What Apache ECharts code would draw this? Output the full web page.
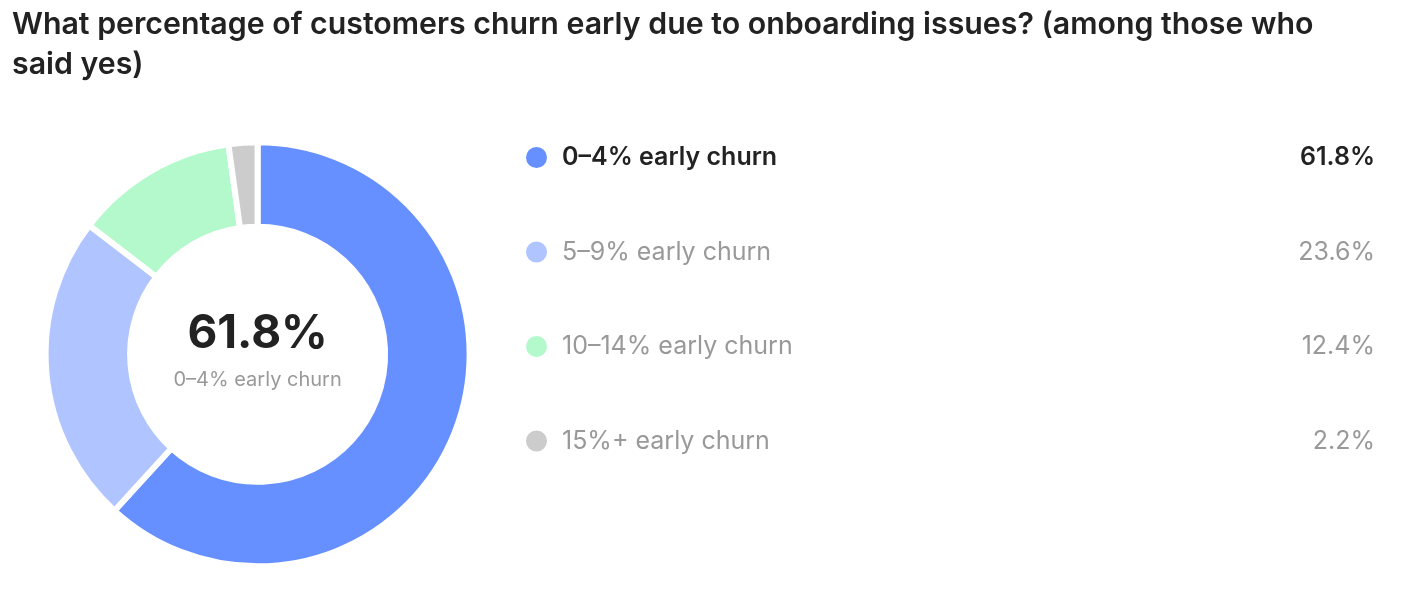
<!DOCTYPE html>
<html><head><meta charset="utf-8">
<script src="https://cdn.jsdelivr.net/npm/echarts@6/dist/echarts.min.js"></script>
<style>html,body{margin:0;padding:0;background:#fff}#c{width:1410px;height:615px}</style>
</head><body><div id="c"></div>
<script>
const titleText = 'What percentage of customers churn early due to onboarding issues? (among those who\nsaid yes)';
const categories = ['0–4% early churn', '5–9% early churn', '10–14% early churn', '15%+ early churn'];
const values = [61.8, 23.6, 12.4, 2.2];
const colors = ['#6690ff', '#b0c4ff', '#b3f9cb', '#cccccc'];
const FONT = 'Inter';

const chart = echarts.init(document.getElementById('c'));
const fmt = v => v.toFixed(1) + '%';
const NAME_W = 713, VAL_W = 100;
chart.setOption({
  animation: false,
  title: {
    text: titleText, left: 12, top: 5, padding: 0,
    textStyle: { fontFamily: FONT, fontSize: 30.3, fontWeight: 600, color: '#222', lineHeight: 40 }
  },
  legend: {
    orient: 'vertical', left: 524, top: 145, padding: 0,
    icon: 'circle', itemWidth: 23, itemHeight: 23, itemGap: 69.5, itemTextGap: 15,
    selectedMode: false,
    data: categories,
    formatter: name => {
      const i = categories.indexOf(name);
      const s = i === 0 ? 'B' : 'N';
      return '{n' + s + '|' + name + '}{v' + s + '|' + fmt(values[i]) + '}';
    },
    textStyle: {
      fontFamily: FONT,
      rich: {
        nB: { fontFamily: FONT, fontSize: 25, fontWeight: 600, color: '#222', width: NAME_W, lineHeight: 25, padding: [0, 0, 0, 9] },
        vB: { fontFamily: FONT, fontSize: 25, fontWeight: 600, color: '#222', width: VAL_W, align: 'right', lineHeight: 25 },
        nN: { fontFamily: FONT, fontSize: 25, fontWeight: 400, color: '#999', width: NAME_W, lineHeight: 25, padding: [0, 0, 0, 9] },
        vN: { fontFamily: FONT, fontSize: 25, fontWeight: 400, color: '#999', width: VAL_W, align: 'right', lineHeight: 25 }
      }
    }
  },
  series: [{
    type: 'pie',
    center: [257.6, 354.3],
    radius: [127.5, 212],
    startAngle: 90,
    clockwise: true,
    avoidLabelOverlap: false,
    label: {
      show: true, position: 'center',
      formatter: p => p.dataIndex === 0 ? '{big|' + fmt(p.value) + '}\n{small|' + p.name + '}' : '',
      rich: {
        big: { fontFamily: FONT, fontSize: 46, fontWeight: 700, color: '#222', lineHeight: 51 },
        small: { fontFamily: FONT, fontSize: 20, fontWeight: 400, color: '#999', lineHeight: 40 }
      }
    },
    labelLine: { show: false },
    emphasis: { disabled: true },
    itemStyle: { borderColor: '#fff', borderWidth: 6 },
    data: categories.map((c, i) => ({ name: c, value: values[i], itemStyle: { color: colors[i] } }))
  }]
});
</script></body></html>
